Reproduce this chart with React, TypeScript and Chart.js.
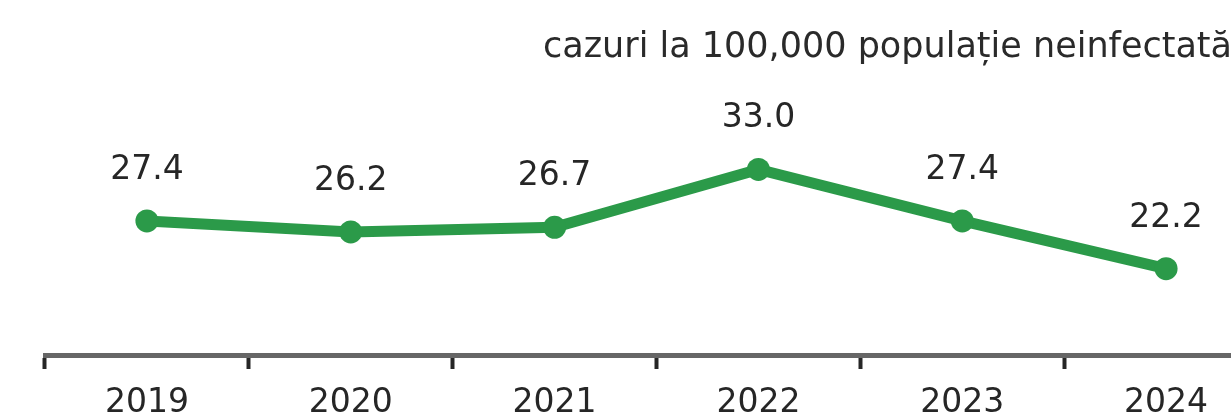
import React, { useEffect, useRef } from "react";
import { Chart, registerables } from "chart.js";

Chart.register(...registerables);

const years = ["2019", "2020", "2021", "2022", "2023", "2024"];
const rates = [27.4, 26.2, 26.7, 33.0, 27.4, 22.2];
const titleText = "cazuri la 100,000 populație neinfectată";

const FONT = "'DejaVu Sans', sans-serif";
const GREEN = "#2b9a49";

const valueLabels = {
  id: "valueLabels",
  afterDatasetsDraw(chart: any) {
    const ctx = chart.ctx;
    const meta = chart.getDatasetMeta(0);
    ctx.save();
    ctx.font = `33px ${FONT}`;
    ctx.fillStyle = "#262626";
    ctx.textAlign = "center";
    ctx.textBaseline = "alphabetic";
    meta.data.forEach((pt: any, i: number) => {
      const v = chart.data.datasets[0].data[i] as number;
      ctx.fillText(v.toFixed(1), pt.x, pt.y - 42);
    });
    ctx.restore();
  },
};

const unitTitle = {
  id: "unitTitle",
  afterDraw(chart: any) {
    const ctx = chart.ctx;
    ctx.save();
    ctx.font = `35px ${FONT}`;
    ctx.fillStyle = "#2a2a2a";
    ctx.textAlign = "left";
    ctx.textBaseline = "alphabetic";
    ctx.fillText(titleText, 543, 57);
    ctx.restore();
  },
};

export default function App() {
  const ref = useRef<HTMLCanvasElement>(null);
  useEffect(() => {
    if (!ref.current) return;
    const chart = new Chart(ref.current, {
      type: "line",
      data: {
        labels: years,
        datasets: [
          {
            data: rates,
            borderColor: GREEN,
            backgroundColor: GREEN,
            borderWidth: 11,
            pointRadius: 11.5,
            pointBorderWidth: 0,
            pointBackgroundColor: GREEN,
            tension: 0,
          },
        ],
      },
      options: {
        animation: false,
        responsive: false,
        devicePixelRatio: 1,
        layout: { padding: { left: 45, right: 32, top: 80, bottom: -22 } },
        plugins: {
          legend: { display: false },
          tooltip: { enabled: false },
          title: { display: false },
        },
        scales: {
          x: {
            offset: true,
            grid: {
              offset: true,
              drawOnChartArea: false,
              drawTicks: true,
              tickLength: 14,
              tickWidth: 4,
              tickColor: "#262626",
            },
            border: { display: true, color: "#666666", width: 5 },
            ticks: {
              color: "#262626",
              font: { family: FONT, size: 33, lineHeight: 1 },
              padding: 18,
              maxRotation: 0,
            },
          },
          y: {
            display: false,
            min: 12.8,
            max: 42.74,
          },
        },
      },
      plugins: [valueLabels, unitTitle],
    });
    return () => chart.destroy();
  }, []);
  return (
    <div
      style={{
        position: "fixed",
        left: 0,
        top: 0,
        width: 1231,
        height: 416,
        overflow: "hidden",
        background: "#ffffff",
      }}
    >
      <canvas ref={ref} width={1300} height={416} style={{ display: "block" }} />
    </div>
  );
}
